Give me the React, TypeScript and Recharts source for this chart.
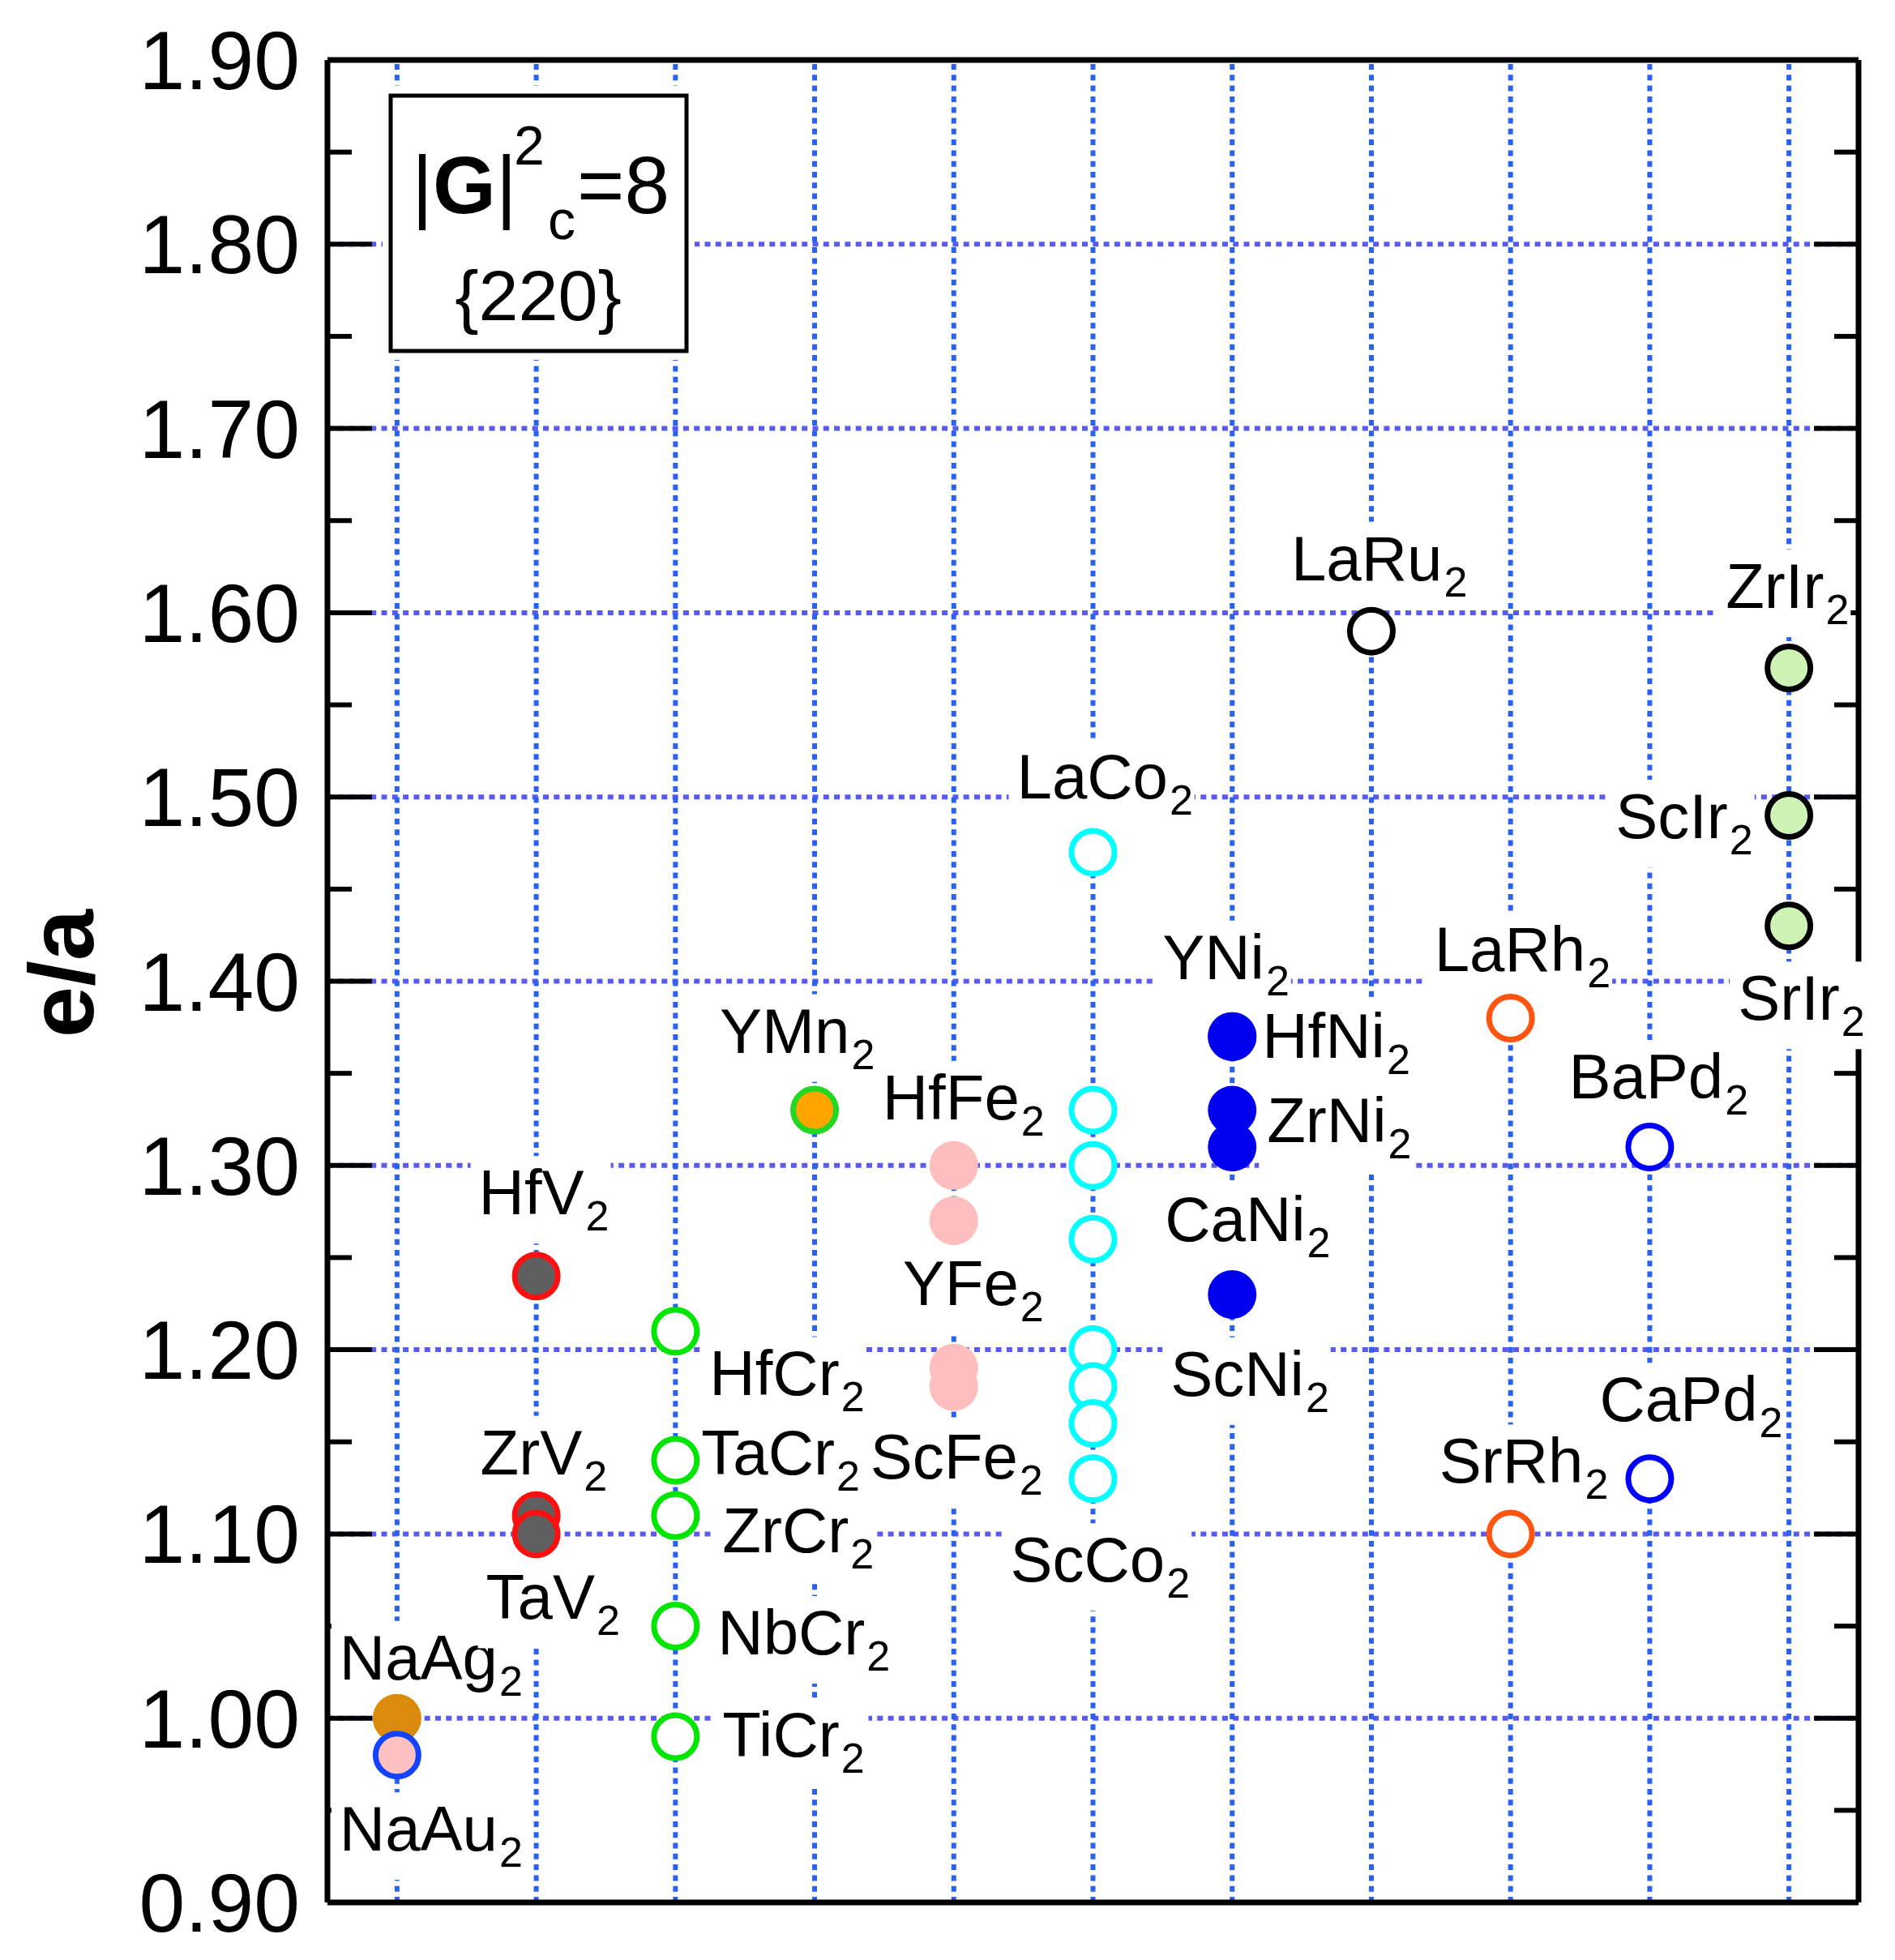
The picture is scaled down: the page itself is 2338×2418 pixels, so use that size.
import React from 'react'
import { ScatterChart, Scatter, XAxis, YAxis, ReferenceLine } from 'recharts'

const W = 2338
const H = 2418
const FONT = '"Liberation Sans", Arial, Helvetica, sans-serif'

// axis ticks: every 0.05, labelled every 0.10
const Y_TICKS = [0.9, 0.95, 1.0, 1.05, 1.1, 1.15, 1.2, 1.25, 1.3, 1.35, 1.4, 1.45, 1.5, 1.55, 1.6, 1.65, 1.7, 1.75, 1.8, 1.85, 1.9]
const Y_GRID = [1.0, 1.1, 1.2, 1.3, 1.4, 1.5, 1.6, 1.7, 1.8]
const COLUMNS = [1, 2, 3, 4, 5, 6, 7, 8, 9, 10, 11]

// compounds (name, e/a) per column
const naAgNames = ['NaAg2']
const naAgValues = [1.0]
const naAuNames = ['NaAu2']
const naAuValues = [0.98]
const vNames = ['HfV2', 'ZrV2', 'TaV2']
const vValues = [1.24, 1.11, 1.1]
const crNames = ['HfCr2', 'TaCr2', 'ZrCr2', 'NbCr2', 'TiCr2']
const crValues = [1.21, 1.14, 1.11, 1.05, 0.99]
const mnNames = ['YMn2']
const mnValues = [1.33]
const feNames = ['HfFe2', 'YFe2', '', 'ScFe2']
const feValues = [1.3, 1.27, 1.19, 1.18]
const coNames = ['LaCo2', '', '', '', '', '', '', 'ScCo2']
const coValues = [1.47, 1.33, 1.3, 1.26, 1.2, 1.18, 1.16, 1.13]
const niNames = ['YNi2', 'HfNi2', 'ZrNi2', 'CaNi2', 'ScNi2']
const niValues = [1.37, 1.37, 1.33, 1.31, 1.23]
const ruNames = ['LaRu2']
const ruValues = [1.59]
const rhNames = ['LaRh2', 'SrRh2']
const rhValues = [1.38, 1.1]
const pdNames = ['BaPd2', 'CaPd2']
const pdValues = [1.31, 1.13]
const irNames = ['ZrIr2', 'ScIr2', 'SrIr2']
const irValues = [1.57, 1.49, 1.43]

// label placement relative to marker centre: [dx to text start, dy to baseline]
const LABEL_OFFSETS: Record<string, [number, number]> = {
  NaAg2: [-71, -48], NaAu2: [-71, 118],
  HfV2: [-71, -76], ZrV2: [-69, -51], TaV2: [-62, 105],
  HfCr2: [42, 79], TaCr2: [32, 18], ZrCr2: [58, 45], NbCr2: [52, 35], TiCr2: [58, 25],
  YMn2: [-117, -71],
  HfFe2: [-88, -57], YFe2: [-63, 104], ScFe2: [-103, 113],
  LaCo2: [-94, -66], ScCo2: [-102, 127],
  YNi2: [-86, -71], HfNi2: [37, 26], ZrNi2: [43, 39], CaNi2: [-83, 116], ScNi2: [-76, 125],
  LaRu2: [-99, -63],
  LaRh2: [-94, -58], SrRh2: [-88, -63],
  BaPd2: [-100, -60], CaPd2: [-62, -71],
  ZrIr2: [-78, -74], ScIr2: [-214, 28], SrIr2: [-63, 116],
}

const CHAR_W: Record<string, number> = {
  A: 0.667, B: 0.667, C: 0.722, F: 0.611, H: 0.722, I: 0.278, L: 0.556, M: 0.833, N: 0.722,
  P: 0.667, R: 0.722, S: 0.667, T: 0.611, V: 0.667, Y: 0.667, Z: 0.611,
  a: 0.556, b: 0.556, c: 0.5, d: 0.556, e: 0.556, f: 0.278, g: 0.556, h: 0.556, i: 0.222,
  n: 0.556, o: 0.556, r: 0.333, u: 0.556,
}

const toPoints = (col: number, names: string[], values: number[]) =>
  values.map((v, i) => ({ x: col, y: v, name: names[i] }))

const SERIES = [
  { key: 'naag', data: toPoints(1, naAgNames, naAgValues), fill: '#db8b0b', stroke: 'none' },
  { key: 'naau', data: toPoints(1, naAuNames, naAuValues), fill: '#ffc0c0', stroke: '#1244ff' },
  { key: 'v', data: toPoints(2, vNames, vValues), fill: '#5f5f5f', stroke: '#ff1010' },
  { key: 'cr', data: toPoints(3, crNames, crValues), fill: '#ffffff', stroke: '#00e600' },
  { key: 'mn', data: toPoints(4, mnNames, mnValues), fill: '#ffa500', stroke: '#22d822' },
  { key: 'fe', data: toPoints(5, feNames, feValues), fill: '#ffbebe', stroke: 'none' },
  { key: 'co', data: toPoints(6, coNames, coValues), fill: '#ffffff', stroke: '#00ffff' },
  { key: 'ni', data: toPoints(7, niNames, niValues), fill: '#0000ee', stroke: 'none' },
  { key: 'ru', data: toPoints(8, ruNames, ruValues), fill: '#ffffff', stroke: '#000000' },
  { key: 'rh', data: toPoints(9, rhNames, rhValues), fill: '#ffffff', stroke: '#ff5511' },
  { key: 'pd', data: toPoints(10, pdNames, pdValues), fill: '#ffffff', stroke: '#0000ff' },
  { key: 'ir', data: toPoints(11, irNames, irValues), fill: '#cdf4b4', stroke: '#000000' },
]

const LABELLED = SERIES.flatMap(s => s.data).filter(d => d.name)

const isMajor = (v: number) => Math.round(v * 100) % 10 === 0

const LeftTick = (props: any) => {
  const { x, y, payload } = props
  const v = payload.value
  const major = isMajor(v)
  const ax = x + 34
  return (
    <g>
      <line x1={ax} x2={ax + (major ? 55 : 30)} y1={y} y2={y} stroke="#000" strokeWidth={6} />
      {major && (
        <text x={x} y={y + 36} textAnchor="end" fontSize={102} fontFamily={FONT} fill="#000">
          {v.toFixed(2)}
        </text>
      )}
    </g>
  )
}

const RightTick = (props: any) => {
  const { x, y, payload } = props
  const major = isMajor(payload.value)
  return <line x1={x} x2={x - (major ? 55 : 30)} y1={y} y2={y} stroke="#000" strokeWidth={6} />
}

const marker = (fill: string, stroke: string) => (props: any) => {
  const { cx, cy } = props
  if (stroke === 'none') return <circle cx={cx} cy={cy} r={30} fill={fill} />
  return <circle cx={cx} cy={cy} r={26.5} fill={fill} stroke={stroke} strokeWidth={7} />
}

const LabelShape = (props: any) => {
  const { cx, cy, payload } = props
  const name: string = payload.name
  const off = LABEL_OFFSETS[name] || [0, 0]
  const base = name.slice(0, -1)
  const sub = name.slice(-1)
  const x = cx + off[0]
  const y = cy + off[1]
  const w = base.split('').reduce((s, c) => s + (CHAR_W[c] || 0.556), 0) * 78 + 2 + 0.556 * 52
  return (
    <g>
      <rect x={x - 10} y={y - 72} width={w + 12} height={108} fill="#fff" />
      <text x={x} y={y} fontSize={78} fontFamily={FONT} fill="#000">
        {base}
        <tspan fontSize={52} dx={2} dy={20}>{sub}</tspan>
      </text>
    </g>
  )
}

const border = { stroke: '#000', strokeWidth: 7 }

export default function App() {
  return (
    <div style={{ position: 'absolute', left: 0, top: 0, width: W, height: H, background: '#fff' }}>
      <ScatterChart width={W} height={H} margin={{ top: 73, right: 44, bottom: 70, left: 104 }}>
        <XAxis xAxisId="b" type="number" dataKey="x" domain={[0.5, 11.5]} ticks={COLUMNS}
          tick={false} tickLine={false} height={1} axisLine={border} />
        <XAxis xAxisId="t" orientation="top" type="number" dataKey="x" domain={[0.5, 11.5]}
          allowDataOverflow tick={false} tickLine={false} height={1} axisLine={border} />
        <YAxis yAxisId="l" type="number" dataKey="y" domain={[0.9, 1.9]} ticks={Y_TICKS} interval={0}
          width={300} tickSize={0} tickMargin={34} tickLine={false} axisLine={border} tick={<LeftTick />} />
        <YAxis yAxisId="r" orientation="right" type="number" dataKey="y" domain={[0.9, 1.9]} ticks={Y_TICKS}
          allowDataOverflow interval={0} width={1} tickSize={0} tickMargin={0} tickLine={false}
          axisLine={border} tick={<RightTick />} />

        {Y_GRID.map(v => (
          <ReferenceLine key={`h${v}`} xAxisId="b" yAxisId="l" y={v} stroke="#5a5aee"
            strokeWidth={6} strokeDasharray="7 6.3" />
        ))}
        {COLUMNS.map(c => (
          <ReferenceLine key={`v${c}`} xAxisId="b" yAxisId="l" x={c} stroke="#2a62ee"
            strokeWidth={6} strokeDasharray="7 6.3" />
        ))}

        <Scatter name="labels" xAxisId="b" yAxisId="l" data={LABELLED} shape={LabelShape}
          zIndex={2500} isAnimationActive={false} />
        {SERIES.map(s => (
          <Scatter key={s.key} name={s.key} xAxisId="b" yAxisId="l" data={s.data}
            shape={marker(s.fill, s.stroke)} zIndex={2600} isAnimationActive={false} />
        ))}
        {/* ties the right axis to the same points so it gets its ticks */}
        <Scatter name="right-axis" xAxisId="t" yAxisId="r" data={SERIES[11].data}
          shape={() => <g />} isAnimationActive={false} />
      </ScatterChart>

      <svg width={W} height={H} style={{ position: 'absolute', left: 0, top: 0, pointerEvents: 'none' }}>
        <text transform="translate(115,1201) rotate(-90)" textAnchor="middle" fontSize={114}
          fontWeight="bold" fontFamily={FONT} fill="#000">e/a</text>

        <rect x={472} y={106} width={385} height={338} fill="#fff" />
        <rect x={482} y={118} width={365} height={315} fill="#fff" stroke="#000" strokeWidth={5} />
        <text x={508} y={263} fontSize={100} fontFamily={FONT} fill="#000">
          |<tspan fontWeight="bold">G</tspan>|
        </text>
        <text x={634} y={203} fontSize={68} fontFamily={FONT} fill="#000">2</text>
        <text x={676} y={295} fontSize={68} fontFamily={FONT} fill="#000">c</text>
        <text x={712} y={263} fontSize={100} fontFamily={FONT} fill="#000">=8</text>
        <text x={664} y={395} textAnchor="middle" fontSize={88} fontFamily={FONT} fill="#000">{'{220}'}</text>
      </svg>
    </div>
  )
}
